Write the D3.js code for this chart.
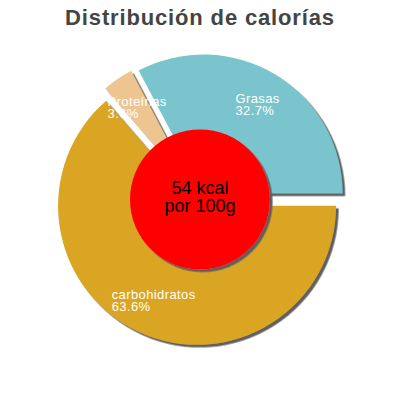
<!DOCTYPE html>
<html>
<head>
<meta charset="utf-8">
<script src="https://cdn.jsdelivr.net/npm/d3@7"></script>
<style>
html,body{margin:0;padding:0;background:#fff;}
svg{display:block;font-family:"Liberation Sans",Arial,sans-serif;}
</style>
</head>
<body>
<svg id="chart" width="400" height="400"></svg>
<script>
const title = "Distribución de calorías";
const categories = ["carbohidratos", "Proteínas", "Grasas"];
const percents = [63.6, 3.6, 32.7];
const percentLabels = ["63.6%", "3.6%", "32.7%"];
const colors = ["#DAA520", "#EEC591", "#7AC5CD"];
const centerLines = ["54 kcal", "por 100g"];

const svg = d3.select("#chart");
const cx = 200, cy = 199.5, R = 139, r0 = 70, explode = 7;

const defs = svg.append("defs");
const f = defs.append("filter").attr("id", "shadow")
  .attr("x", "-20%").attr("y", "-20%").attr("width", "140%").attr("height", "140%");
f.append("feDropShadow").attr("dx", 2.6).attr("dy", 2.6)
  .attr("stdDeviation", 0.6).attr("flood-color", "#5f5f5f").attr("flood-opacity", 1);

svg.append("text").attr("x", 200).attr("y", 25)
  .attr("text-anchor", "middle").attr("font-size", 22).attr("font-weight", "bold")
  .attr("letter-spacing", 0.85).attr("fill", "#444").text(title);

const data = categories.map((c, i) => ({ name: c, value: percents[i], label: percentLabels[i], color: colors[i] }));
const pie = d3.pie().sort(null).value(d => d.value).startAngle(Math.PI / 2).endAngle(Math.PI / 2 + 2 * Math.PI);
const arcs = pie(data);
const arc = d3.arc().innerRadius(0).outerRadius(R);
const labelArc = d3.arc().innerRadius(r0).outerRadius(R);

const g = svg.append("g").attr("transform", `translate(${cx},${cy})`);
function off(d) {
  const a = (d.startAngle + d.endAngle) / 2;
  return [Math.sin(a) * explode, -Math.cos(a) * explode];
}
g.selectAll("path.slice").data(arcs).join("path")
  .attr("class", "slice")
  .attr("d", arc)
  .attr("fill", d => d.data.color)
  .attr("transform", d => { const o = off(d); return `translate(${o[0]},${o[1]})`; })
  .attr("filter", "url(#shadow)");

g.append("circle").attr("r", r0).attr("fill", "#ff0000").attr("filter", "url(#shadow)");

const ct = g.append("text").attr("text-anchor", "middle").attr("font-size", 18).attr("fill", "#000");
ct.append("tspan").attr("x", 0).attr("y", -5.5).text(centerLines[0]);
ct.append("tspan").attr("x", 0).attr("y", 12.5).text(centerLines[1]);

arcs.forEach(d => {
  const c = labelArc.centroid(d);
  const o = off(d);
  const x = c[0] + o[0], y = c[1] + o[1];
  const t = g.append("text").attr("font-size", 13).attr("fill", "#fff").attr("letter-spacing", 0.4);
  const t1 = t.append("tspan").attr("y", y - 1.5).text(d.data.name);
  const t2 = t.append("tspan").attr("y", y + 10.5).text(d.data.label);
  const w = Math.max(t1.node().getComputedTextLength(), t2.node().getComputedTextLength());
  t1.attr("x", x - w / 2);
  t2.attr("x", x - w / 2);
});
</script>
</body>
</html>
